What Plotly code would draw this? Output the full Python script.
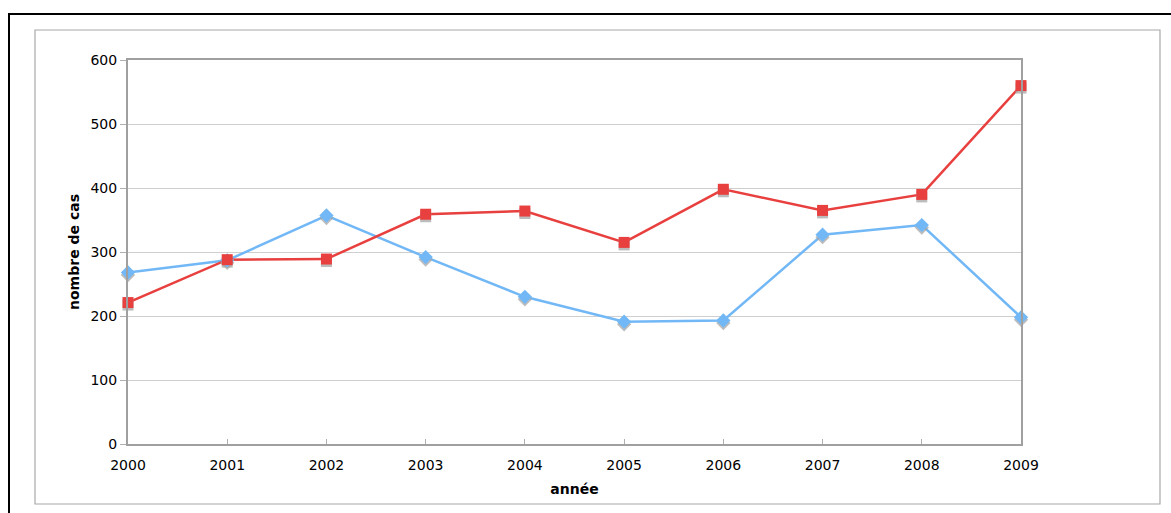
import plotly.graph_objects as go

# Annual case counts, two series
annees = [2000, 2001, 2002, 2003, 2004, 2005, 2006, 2007, 2008, 2009]
serie_bleue = [268, 287, 357, 292, 230, 191, 193, 327, 342, 198]
serie_rouge = [221, 288, 289, 359, 364, 315, 398, 365, 390, 560]

W, H = 1171, 513
L, R, T, B = 128, 150, 60, 69
pw, ph = W - L - R, H - T - B

def px_x(p):
    return (p - L) / pw

def px_y(p):
    return (H - B - p) / ph

ROUGE = "#e8403f"
BLEU = "#72b8f6"
OMBRE = "rgba(165,165,165,0.75)"

fig = go.Figure()

# connecting lines on the main axis
fig.add_trace(go.Scatter(x=annees, y=serie_bleue, mode="lines",
                         line=dict(color=BLEU, width=2.5), cliponaxis=False,
                         hoverinfo="skip", showlegend=False))
fig.add_trace(go.Scatter(x=annees, y=serie_rouge, mode="lines",
                         line=dict(color=ROUGE, width=2.5), cliponaxis=False,
                         hoverinfo="skip", showlegend=False))

# drop shadows under the markers, on a slightly shifted hidden axis
fig.add_trace(go.Scatter(x=annees, y=serie_bleue, mode="markers", yaxis="y2",
                         marker=dict(symbol="diamond", size=11, color=OMBRE,
                                     line=dict(width=0)),
                         cliponaxis=False,
                         hoverinfo="skip", showlegend=False))
fig.add_trace(go.Scatter(x=annees, y=serie_rouge, mode="markers", yaxis="y2",
                         marker=dict(symbol="square", size=11, color=OMBRE,
                                     line=dict(width=0)),
                         cliponaxis=False,
                         hoverinfo="skip", showlegend=False))

# markers on a hidden axis stacked above the shadows
fig.add_trace(go.Scatter(x=annees, y=serie_bleue, mode="markers", yaxis="y3",
                         marker=dict(symbol="diamond", size=11, color=BLEU,
                                     line=dict(width=0)),
                         cliponaxis=False, showlegend=False))
fig.add_trace(go.Scatter(x=annees, y=serie_rouge, mode="markers", yaxis="y3",
                         marker=dict(symbol="square", size=11, color=ROUGE,
                                     line=dict(width=0)),
                         cliponaxis=False, showlegend=False))

decal = 2.5 * 600 / ph  # shadow offset of a few pixels in data units

font = dict(family="DejaVu Sans, Verdana, sans-serif", size=14, color="black")

fig.update_layout(
    width=W, height=H,
    margin=dict(l=L, r=R, t=T, b=B),
    paper_bgcolor="white", plot_bgcolor="white",
    font=font,
    xaxis=dict(range=[2000, 2009], tickmode="array", tickvals=annees,
               ticktext=[str(a) for a in annees],
               showgrid=False, zeroline=False,
               showline=True, linecolor="#a0a0a0", linewidth=2, mirror=True,
               ticks="inside", ticklen=5, tickcolor="#b0b0b0",
               title=dict(text="<b>année</b>", standoff=12,
                          font=dict(size=14)),
               ticklabelstandoff=7),
    yaxis=dict(range=[0, 600], tickmode="array",
               tickvals=[0, 100, 200, 300, 400, 500, 600],
               showgrid=True, gridcolor="#cfcfcf", gridwidth=1,
               zeroline=False,
               showline=True, linecolor="#a0a0a0", linewidth=2, mirror=True,
               ticks="outside", ticklen=6, tickcolor="#b0b0b0",
               title=dict(text="<b>nombre de cas</b>", standoff=8,
                          font=dict(size=14))),
    yaxis2=dict(range=[decal, 600 + decal], overlaying="y", visible=False),
    yaxis3=dict(range=[0, 600], overlaying="y", visible=False),
    shapes=[
        # light gray frame around the chart
        dict(type="rect", xref="paper", yref="paper",
             x0=px_x(35), x1=px_x(1160), y0=px_y(504), y1=px_y(30),
             line=dict(color="#a8a8a8", width=1.2), layer="below"),
        # black page border (top and left)
        dict(type="line", xref="paper", yref="paper",
             x0=px_x(8), x1=px_x(1175), y0=px_y(14), y1=px_y(14),
             line=dict(color="black", width=2)),
        dict(type="line", xref="paper", yref="paper",
             x0=px_x(9), x1=px_x(9), y0=px_y(14), y1=px_y(520),
             line=dict(color="black", width=2)),
    ],
)

fig.write_html("out.html")
